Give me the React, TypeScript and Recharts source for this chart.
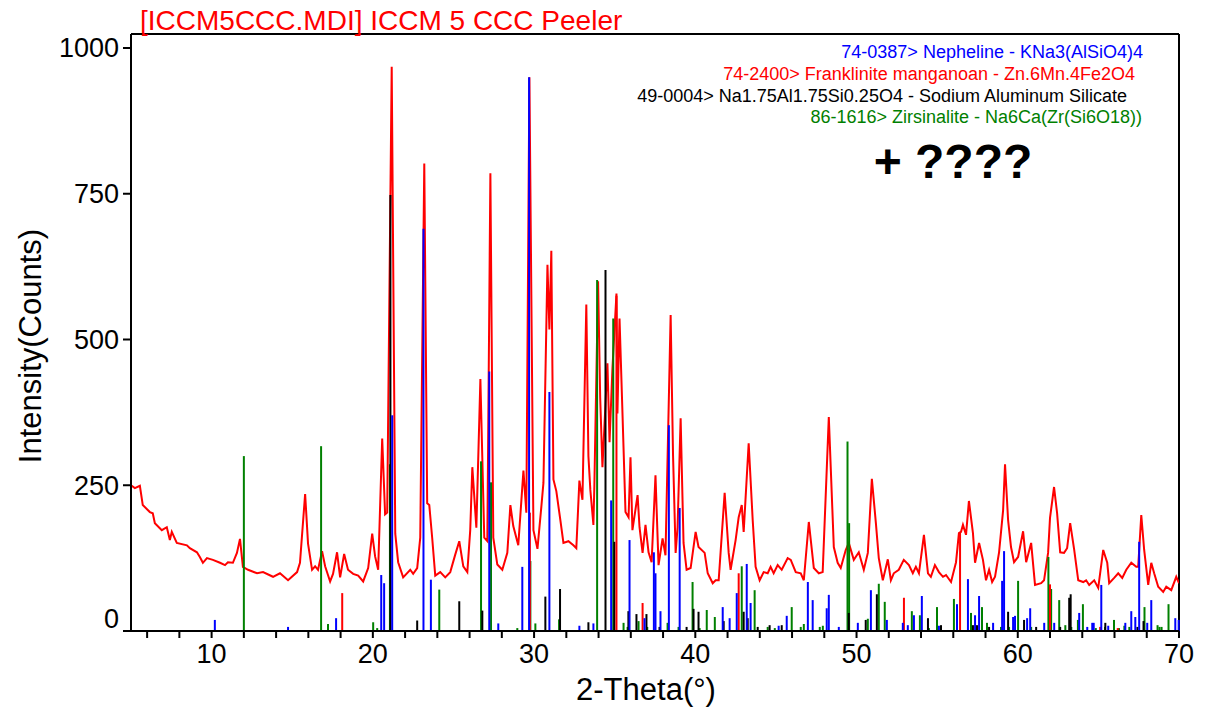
import { ComposedChart, Line, XAxis, YAxis, ReferenceLine } from "recharts"

const FONT = "'Liberation Sans', Arial, Helvetica, sans-serif"

// measured scan: [2-theta, counts]
const scan: [number, number][] = [
  [5.0, 250], [5.24, 245], [5.55, 249], [5.73, 216], [6.17, 204], [6.35, 202], [6.48, 185], [6.91, 173],
  [7.22, 178], [7.41, 156], [7.53, 170], [7.84, 151], [8.47, 147], [8.65, 142], [9.09, 135], [9.27, 127],
  [9.46, 117], [9.71, 125], [10.08, 122], [10.52, 117], [10.83, 113], [11.01, 118], [11.32, 117], [11.57, 134],
  [11.76, 158], [11.94, 110], [12.26, 105], [12.82, 99], [13.19, 101], [13.81, 93], [14.24, 99], [14.74, 87],
  [15.3, 101], [15.48, 117], [15.8, 235], [15.98, 150], [16.23, 105], [16.42, 111], [16.6, 105], [16.85, 137],
  [17.04, 111], [17.35, 85], [17.53, 98], [17.78, 135], [17.97, 92], [18.22, 132], [18.46, 105], [18.78, 98],
  [19.09, 95], [19.4, 85], [19.71, 108], [19.96, 167], [20.14, 128], [20.33, 105], [20.58, 330], [20.76, 200],
  [20.89, 203], [21.17, 968], [21.39, 167], [21.57, 118], [21.88, 92], [22.32, 105], [22.5, 98], [22.75, 108],
  [22.94, 160], [23.19, 802], [23.37, 219], [23.5, 216], [23.68, 160], [23.87, 95], [24.18, 101], [24.49, 92],
  [24.8, 101], [25.11, 131], [25.36, 154], [25.61, 111], [25.86, 101], [26.04, 173], [26.17, 281], [26.42, 177],
  [26.67, 432], [26.91, 160], [27.1, 154], [27.29, 785], [27.47, 160], [27.72, 114], [28.03, 105], [28.34, 134],
  [28.53, 216], [28.71, 180], [29.02, 147], [29.34, 275], [29.52, 203], [29.71, 950], [29.96, 173], [30.21, 141],
  [30.45, 213], [30.58, 254], [30.83, 628], [30.95, 517], [31.07, 652], [31.2, 260], [31.38, 240], [31.63, 190],
  [31.82, 151], [32.13, 154], [32.44, 147], [32.62, 142], [32.81, 258], [33.0, 225], [33.24, 560], [33.37, 300],
  [33.49, 242], [33.68, 182], [33.74, 250], [33.97, 600], [34.1, 400], [34.24, 281], [34.55, 459], [34.68, 324],
  [34.86, 450], [35.11, 579], [35.17, 373], [35.3, 536], [35.49, 367], [35.67, 204], [35.86, 195], [35.98, 298],
  [36.1, 173], [36.42, 233], [36.54, 178], [36.73, 134], [36.91, 182], [37.1, 135], [37.29, 118], [37.53, 267],
  [37.72, 113], [37.97, 159], [38.15, 130], [38.47, 542], [38.62, 300], [38.78, 134], [38.9, 178], [39.09, 365],
  [39.27, 151], [39.46, 105], [39.71, 108], [40.02, 170], [40.2, 144], [40.58, 134], [40.77, 99], [41.08, 82],
  [41.26, 87], [41.45, 87], [41.82, 237], [42.07, 134], [42.19, 105], [42.5, 156], [42.69, 195], [42.88, 216],
  [43.0, 170], [43.31, 322], [43.56, 190], [43.74, 110], [43.99, 87], [44.24, 101], [44.49, 99], [44.67, 110],
  [44.86, 99], [45.11, 113], [45.36, 105], [45.73, 125], [45.92, 122], [46.23, 101], [46.54, 99], [46.73, 87],
  [47.04, 187], [47.35, 108], [47.66, 99], [47.9, 101], [48.28, 367], [48.59, 144], [48.83, 117], [49.02, 108],
  [49.33, 139], [49.52, 151], [49.83, 122], [50.14, 135], [50.45, 105], [50.7, 134], [50.95, 261], [51.2, 185],
  [51.38, 125], [51.63, 87], [51.94, 123], [52.13, 87], [52.31, 99], [52.62, 105], [52.93, 122], [53.25, 113],
  [53.49, 99], [53.68, 110], [53.87, 99], [54.18, 165], [54.43, 99], [54.61, 93], [54.86, 113], [55.11, 101],
  [55.36, 93], [55.55, 96], [55.86, 84], [56.17, 118], [56.35, 168], [56.48, 170], [56.6, 182], [56.79, 165],
  [56.97, 223], [57.22, 168], [57.35, 117], [57.6, 151], [57.84, 122], [58.03, 87], [58.22, 105], [58.41, 84],
  [58.59, 93], [58.84, 135], [59.09, 207], [59.21, 286], [59.4, 190], [59.58, 144], [59.77, 118], [60.02, 127],
  [60.33, 171], [60.52, 118], [60.83, 151], [61.07, 79], [61.45, 82], [61.63, 87], [61.88, 134], [62.0, 194],
  [62.25, 247], [62.44, 202], [62.63, 135], [62.87, 134], [63.06, 142], [63.25, 185], [63.5, 139], [63.75, 87],
  [64.06, 84], [64.24, 87], [64.43, 79], [64.74, 87], [64.99, 74], [65.3, 139], [65.55, 117], [65.67, 82],
  [65.98, 91], [66.23, 99], [66.48, 91], [66.73, 105], [67.04, 117], [67.35, 110], [67.47, 110], [67.66, 199],
  [67.84, 139], [68.09, 79], [68.28, 117], [68.46, 99], [68.71, 76], [69.02, 67], [69.21, 76], [69.52, 70],
  [69.83, 93], [70.0, 82],
]

// reference patterns: [2-theta, intensity]
const nepheline: [number, number][] = [
  [10.2, 19], [14.74, 7], [17.72, 22], [20.52, 96], [20.7, 82], [21.2, 370], [23.14, 690], [23.6, 88],
  [27.22, 445], [27.78, 13], [29.27, 110], [29.69, 950], [30.95, 410], [32.81, 9], [33.68, 13], [34.78, 224],
  [35.92, 156], [36.85, 22], [37.43, 135], [37.53, 99], [37.84, 34], [38.36, 353], [39.03, 211], [41.7, 41],
  [42.13, 22], [42.57, 65], [43.19, 115], [43.43, 48], [45.17, 9], [45.67, 26], [46.98, 84], [47.28, 53],
  [48.15, 39], [48.28, 62], [48.9, 7], [50.08, 14], [50.89, 70], [51.88, 19], [52.87, 14], [53.18, 10],
  [53.56, 27], [54.05, 60], [55.11, 9], [56.23, 46], [56.91, 89], [57.35, 27], [57.6, 60], [58.47, 14],
  [59.03, 86], [59.15, 137], [59.71, 24], [59.83, 26], [60.58, 22], [60.77, 39], [61.64, 14], [62.26, 14],
  [63.81, 31], [64.31, 7], [64.62, 14], [64.71, 14], [65.18, 79], [65.61, 9], [66.67, 14], [67.04, 34],
  [67.29, 24], [67.53, 153], [68.03, 14], [68.28, 53], [69.77, 22], [69.98, 19],
]

const franklinite: [number, number][] = [
  [18.1, 65], [29.74, 203], [35.11, 575], [36.73, 48], [42.69, 99], [52.94, 57], [56.42, 170], [62.0, 80],
  [65.11, 7], [66.2, 5],
]

const sodiumAlSilicate: [number, number][] = [
  [21.09, 748], [22.75, 18], [25.36, 51], [26.79, 35], [30.7, 59], [31.61, 72], [33.37, 15], [34.43, 619],
  [34.98, 153], [35.85, 34], [36.35, 29], [36.97, 29], [37.78, 7], [39.46, 7], [39.89, 38], [40.2, 33],
  [41.76, 17], [43.0, 33], [43.25, 22], [43.87, 7], [44.61, 10], [45.36, 10], [49.52, 31], [50.57, 19],
  [51.26, 63], [54.43, 22], [55.24, 10], [57.22, 10], [57.47, 10], [58.22, 7], [59.4, 33], [60.39, 19],
  [61.14, 7], [62.63, 7], [63.19, 57], [63.28, 63], [65.43, 14], [67.42, 7], [67.8, 17],
]

const zirsinalite: [number, number][] = [
  [12.0, 300], [16.79, 317], [17.22, 12], [20.02, 15], [20.27, 5], [21.06, 286], [24.12, 71], [26.71, 291],
  [27.33, 255], [28.96, 5], [29.77, 120], [30.08, 13], [31.55, 20], [33.91, 602], [34.91, 536], [35.55, 14],
  [35.8, 7], [36.48, 17], [37.02, 7], [38.28, 14], [38.96, 7], [39.83, 84], [40.27, 5], [40.71, 36],
  [41.21, 24], [42.88, 111], [43.68, 70], [44.49, 7], [44.93, 5], [45.98, 41], [46.54, 7], [46.73, 12],
  [47.72, 7], [47.91, 9], [49.44, 325], [49.54, 185], [50.7, 21], [51.38, 81], [51.75, 50], [53.43, 34],
  [53.93, 27], [54.49, 5], [54.99, 41], [56.04, 55], [57.1, 31], [57.78, 41], [58.09, 14], [58.96, 7],
  [59.46, 7], [60.02, 86], [60.83, 7], [61.9, 127], [62.07, 72], [62.57, 53], [62.95, 10], [63.32, 7],
  [63.73, 19], [64.04, 46], [64.84, 5], [65.41, 7], [65.97, 19], [66.28, 5], [66.61, 9], [66.92, 7],
  [67.86, 41], [68.67, 10], [68.79, 7], [68.92, 7], [69.35, 46],
]

const phases = [
  { label: "74-0387> Nepheline - KNa3(AlSiO4)4", color: "#0000ff", sticks: nepheline },
  { label: "74-2400> Franklinite manganoan - Zn.6Mn.4Fe2O4", color: "#ff0000", sticks: franklinite },
  { label: "49-0004> Na1.75Al1.75Si0.25O4 - Sodium Aluminum Silicate", color: "#000000", sticks: sodiumAlSilicate },
  { label: "86-1616> Zirsinalite - Na6Ca(Zr(Si6O18))", color: "#008000", sticks: zirsinalite },
]

const xTicks = [6, 8, 10, 12, 14, 16, 18, 20, 22, 24, 26, 28, 30, 32, 34, 36, 38, 40, 42, 44, 46, 48, 50, 52, 54, 56, 58, 60, 62, 64, 66, 68, 70]
const yTicks = [0, 250, 500, 750, 1000]

const title = "[ICCM5CCC.MDI] ICCM 5 CCC Peeler"

const scanData = scan.map(([x, counts]) => ({ x, counts }))

// legend lines are right aligned, each at its own edge
const legendRight = [1143, 1135, 1127, 1142]
const legendBase = [58, 80, 102, 123]

const XTick = (props: any) => {
  const { x, y, payload } = props
  if (payload.value % 10 !== 0) return <g />
  return (
    <text x={x} y={y} dy={21} textAnchor="middle" fontSize={27} fontFamily={FONT} fill="#000">
      {payload.value}
    </text>
  )
}

const YTick = (props: any) => {
  const { x, y, payload } = props
  const shift = payload.value === 0 ? -13 : 0
  return (
    <text x={x} y={y + shift} dy={9.5} textAnchor="end" fontSize={27} fontFamily={FONT} fill="#000">
      {payload.value}
    </text>
  )
}

export default function App() {
  return (
    <div style={{ position: "absolute", left: 0, top: 0, width: 1206, height: 714, background: "#fff" }}>
      <ComposedChart width={1206} height={714} margin={{ top: 34, right: 27, bottom: 0, left: 0 }}>
        <XAxis
          type="number"
          dataKey="x"
          domain={[5, 70]}
          ticks={xTicks}
          interval={0}
          allowDataOverflow
          height={83}
          tickSize={7}
          tickMargin={4}
          tick={<XTick />}
          axisLine={{ stroke: "#000", strokeWidth: 2 }}
          tickLine={{ stroke: "#000", strokeWidth: 2 }}
        />
        <YAxis
          type="number"
          domain={[0, 1024]}
          ticks={yTicks}
          interval={0}
          allowDataOverflow
          width={131}
          tickSize={8}
          tickMargin={4}
          tick={<YTick />}
          axisLine={{ stroke: "#000", strokeWidth: 2 }}
          tickLine={{ stroke: "#000", strokeWidth: 2 }}
        />
        {/* top and right frame */}
        <ReferenceLine y={1024} stroke="#000" strokeWidth={2} />
        <ReferenceLine x={70} stroke="#000" strokeWidth={2} />
        <Line
          data={scanData}
          dataKey="counts"
          type="linear"
          dot={false}
          activeDot={false}
          stroke="#ff0000"
          strokeWidth={2}
          isAnimationActive={false}
        />
        {[...phases].reverse().map((p) =>
          p.sticks.map(([t, h], i) => (
            <ReferenceLine
              key={p.color + i}
              segment={[{ x: t, y: 0 }, { x: t, y: h }]}
              stroke={p.color}
              strokeWidth={2}
            />
          ))
        )}
      </ComposedChart>
      <svg
        width={1206}
        height={714}
        style={{ position: "absolute", left: 0, top: 0, pointerEvents: "none" }}
        fontFamily={FONT}
      >
        <text x={140} y={30} fontSize={28} fill="#ff0000">{title}</text>
        {phases.map((p, i) => (
          <text key={p.label} x={legendRight[i]} y={legendBase[i]} fontSize={18} fill={p.color} textAnchor="end">
            {p.label}
          </text>
        ))}
        <text x={953} y={178} fontSize={48} fontWeight="bold" fill="#000" textAnchor="middle">+ ????</text>
        <text transform="translate(41,346) rotate(-90)" fontSize={31} fill="#000" textAnchor="middle">
          Intensity(Counts)
        </text>
        <text x={646} y={700} fontSize={31} fill="#000" textAnchor="middle">2-Theta(°)</text>
      </svg>
    </div>
  )
}
